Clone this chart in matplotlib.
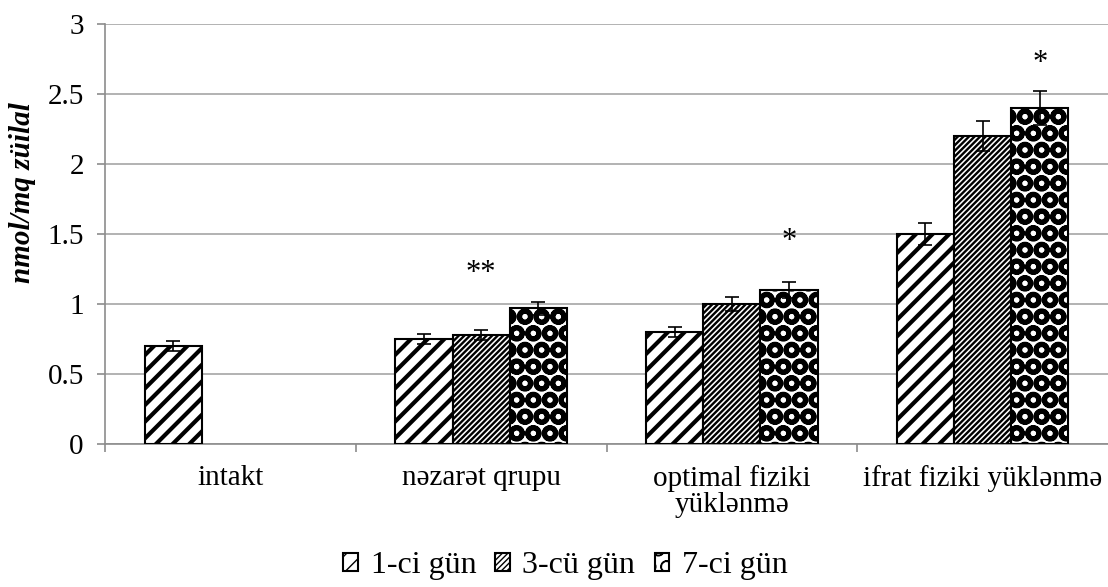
import numpy as np
import matplotlib.pyplot as plt
import matplotlib as mpl

groups = ['intakt', 'nəzarət qrupu', 'optimal fiziki\nyüklənmə', 'ifrat fiziki yüklənmə']
series = ['1-ci gün', '3-cü gün', '7-ci gün']
day1 = [0.70, 0.75, 0.80, 1.50]
day3 = [np.nan, 0.78, 1.00, 2.20]
day7 = [np.nan, 0.97, 1.10, 2.40]
err1 = [0.035, 0.037, 0.037, 0.077]
err3 = [np.nan, 0.037, 0.05, 0.107]
err7 = [np.nan, 0.045, 0.055, 0.12]
stars = ['', '**', '*', '*']
star_y = [0, 1.22, 1.45, 2.72]
star_series = [0, 1, 2, 2]

plt.rcParams['font.family'] = ['Liberation Serif', 'DejaVu Serif']

fig = plt.figure(figsize=(11.08, 5.87), dpi=100)
ax = fig.add_axes([0.0948, 0.2436, 0.9052, 0.7155])

x = np.arange(len(groups))
w = 0.228
hatches = ['//', '//////', 'O']
hlw = [3.0, 1.7, 3.5]
vals = [day1, day3, day7]
errs = [err1, err3, err7]
for i in range(3):
    mpl.rcParams['hatch.linewidth'] = hlw[i]
    ax.bar(x + (i - 1) * w, vals[i], w, color='white', edgecolor='black',
           hatch=hatches[i], linewidth=1.5, label=series[i], zorder=3)
    ax.errorbar(x + (i - 1) * w, vals[i], yerr=errs[i], fmt='none',
                ecolor='black', elinewidth=1.2, capsize=5, capthick=1.2, zorder=4)

for g in range(len(groups)):
    if stars[g]:
        ax.text(x[g] + (star_series[g] - 1) * w, star_y[g], stars[g],
                ha='center', va='center', fontsize=22)

ax.set_xlim(-0.5, 3.5)
ax.set_ylim(0, 3)
ax.set_yticks([0, 0.5, 1, 1.5, 2, 2.5, 3])
ax.set_yticklabels(['0', '0.5', '1', '1.5', '2', '2.5', '3'])
ax.set_xticks(x)
ax.set_xticklabels(groups, fontsize=21, linespacing=1.0)
ax.set_xticks([-0.5, 0.5, 1.5, 2.5], minor=True)
ax.tick_params(axis='x', which='major', length=0, pad=15)
ax.tick_params(axis='x', which='minor', length=6, color='#8c8c8c', width=1.2)
ax.tick_params(axis='y', length=5.8, color='#8c8c8c', width=1.2, labelsize=21, pad=9.5)
ax.yaxis.grid(True, color='#a6a6a6', linewidth=1.2, zorder=0)
ax.set_axisbelow(True)
for s in ['top', 'right']:
    ax.spines[s].set_visible(False)
for s in ['left', 'bottom']:
    ax.spines[s].set_color('#8c8c8c')
    ax.spines[s].set_linewidth(1.2)

ax.set_ylabel('nmol/mq züilal', fontsize=21, fontweight='bold', fontstyle='italic', labelpad=0)
ax.yaxis.set_label_coords(-0.069, 0.598)

mpl.rcParams['hatch.linewidth'] = 1.0
ax.legend(loc='center', bbox_to_anchor=(0.459, -0.29), ncol=3, frameon=False,
          fontsize=23, handlelength=0.45, handleheight=0.45, handletextpad=0.4,
          columnspacing=0.6, borderaxespad=0)

fig.savefig('out.png', dpi=100)
